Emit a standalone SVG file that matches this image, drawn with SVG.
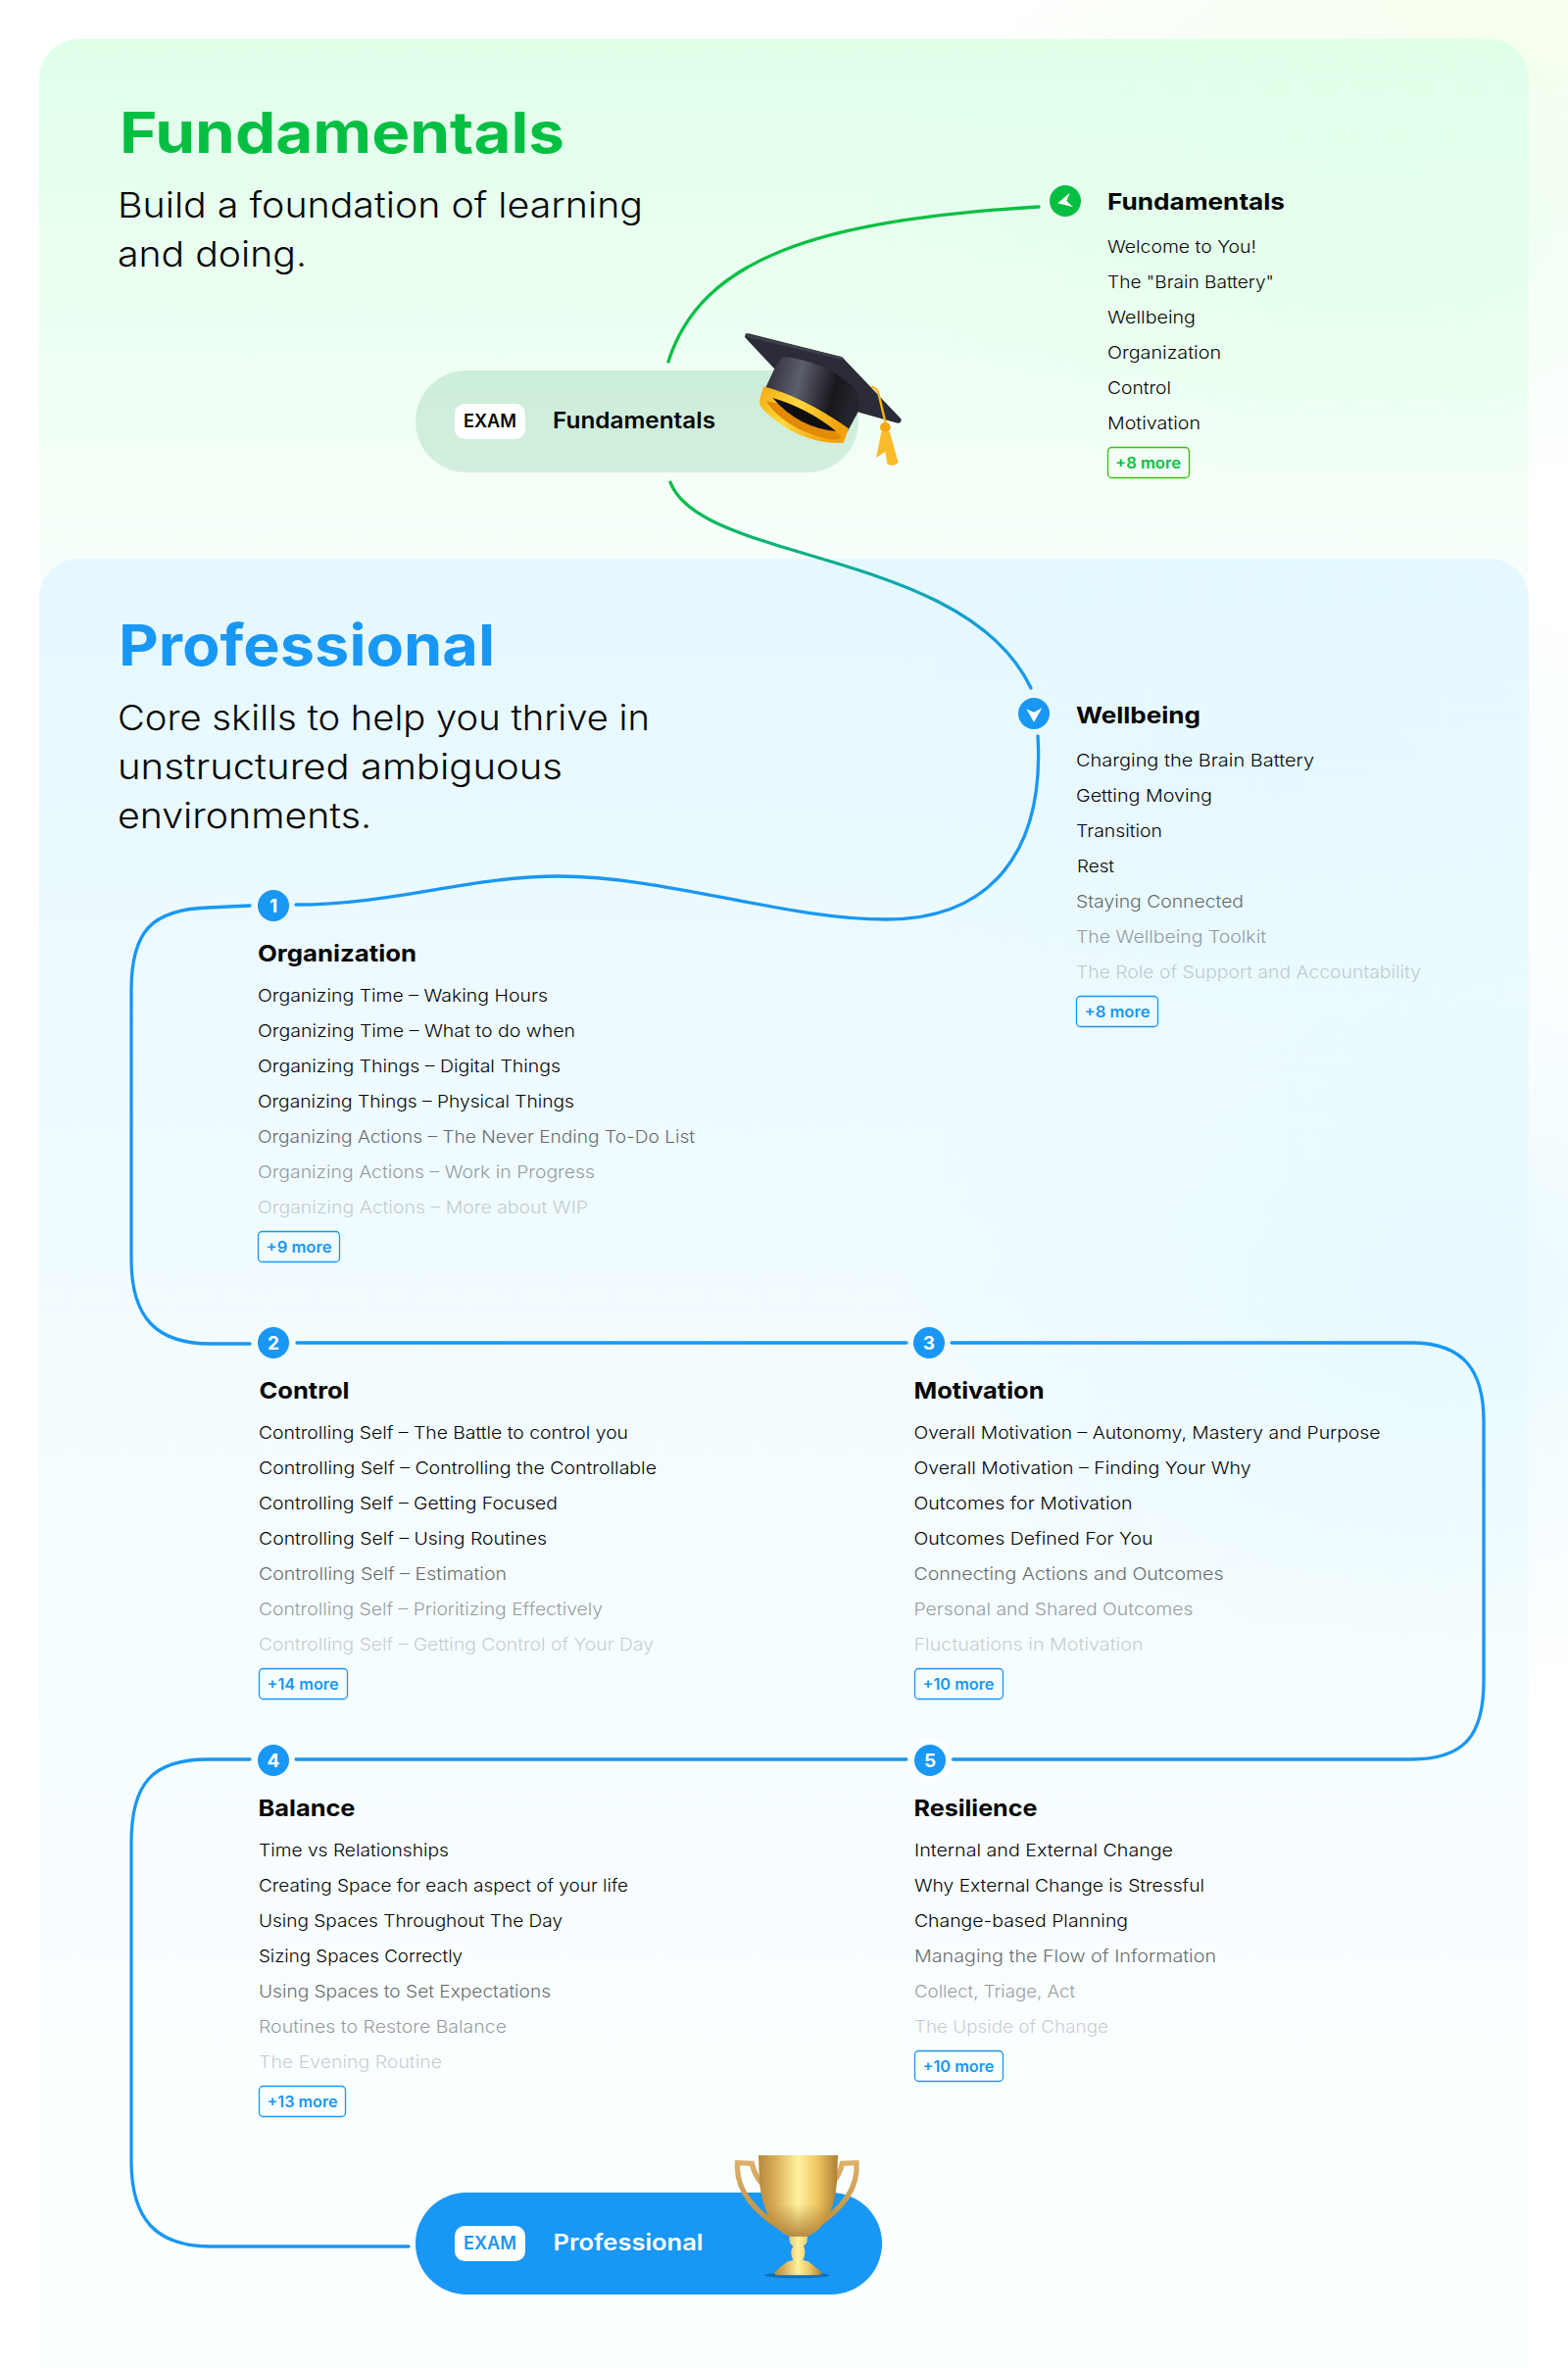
<svg xmlns="http://www.w3.org/2000/svg" width="1600" height="2416" viewBox="0 0 1600 2416">
<style>
text{font-family:Inter,"Liberation Sans",sans-serif;fill:#050505}
.title{font-size:58px;font-weight:700}
.sub{font-size:36px;font-weight:300}
.h{font-size:23.500px;font-weight:700}
.i{font-size:17.800px;font-weight:350}
.f6{opacity:.6}.f4{opacity:.4}.f2{opacity:.2}
.mg{fill:#05bf43}.mb{fill:#1897f5}
.m{font-size:15.500px;font-weight:600}
.mrg{fill:none;stroke:#3dbb12;stroke-width:1.3}
.mrb{fill:none;stroke:#1897f5;stroke-width:1.3}
.n{fill:#1897f5}.ng{fill:#05bf43}
.num{font-size:19px;font-weight:700;fill:#fff;text-anchor:middle}
.badge{fill:#fff}
.ex{font-size:18px;font-weight:600;text-anchor:middle}
.pl{font-size:22.500px;font-weight:600}
.line{fill:none;stroke:#1897f5;stroke-width:3.300;stroke-linecap:round}
</style>
<defs>
<linearGradient id="gp" x1="0" y1="0" x2="0" y2="1"><stop offset="0" stop-color="#dfffe9"/><stop offset=".55" stop-color="#eefff3"/><stop offset="1" stop-color="#fafffc"/></linearGradient>
<radialGradient id="gr" cx=".5" cy=".5" r=".5"><stop offset="0" stop-color="#e0ffe8" stop-opacity=".6"/><stop offset="1" stop-color="#e0ffe8" stop-opacity="0"/></radialGradient>
<linearGradient id="bp" x1="0" y1="0" x2="0" y2="1"><stop offset="0" stop-color="#e5f8ff"/><stop offset=".3" stop-color="#effbff"/><stop offset=".6" stop-color="#f6fdff"/><stop offset="1" stop-color="#fcffff"/></linearGradient>
<radialGradient id="br" cx=".5" cy=".5" r=".5"><stop offset="0" stop-color="#e2f8ff" stop-opacity=".7"/><stop offset="1" stop-color="#e2f8ff" stop-opacity="0"/></radialGradient>
<radialGradient id="cr" cx="1" cy="0" r="1"><stop offset="0" stop-color="#fbffee"/><stop offset="1" stop-color="#fbffee" stop-opacity="0"/></radialGradient>
<linearGradient id="gb" x1="684" y1="492" x2="1052" y2="702" gradientUnits="userSpaceOnUse"><stop offset="0" stop-color="#05bf43"/><stop offset="1" stop-color="#1897f5"/></linearGradient>
<linearGradient id="pillg" x1="0" y1="0" x2="0" y2="1"><stop offset="0" stop-color="#cceeda"/><stop offset="1" stop-color="#d3eede"/></linearGradient>
<linearGradient id="capg" x1="0" y1="0" x2="1" y2=".2"><stop offset="0" stop-color="#24252e"/><stop offset=".42" stop-color="#5e5f6d"/><stop offset=".8" stop-color="#17171d"/><stop offset="1" stop-color="#24242c"/></linearGradient>
<linearGradient id="bandg" x1="0" y1="0" x2="1" y2=".5"><stop offset="0" stop-color="#f5a90f"/><stop offset=".45" stop-color="#ffd93f"/><stop offset="1" stop-color="#f2a20c"/></linearGradient>
<linearGradient id="bowl" x1="0" y1="0" x2="1" y2="0"><stop offset="0" stop-color="#b58a3e"/><stop offset=".2" stop-color="#d8ac55"/><stop offset=".5" stop-color="#fff2a0"/><stop offset=".75" stop-color="#edc45e"/><stop offset="1" stop-color="#ab7d36"/></linearGradient>
<linearGradient id="bowl2" x1="0" y1="0" x2="0" y2="1"><stop offset="0" stop-color="#a97a30" stop-opacity="0"/><stop offset=".6" stop-color="#a97a30" stop-opacity="0"/><stop offset="1" stop-color="#a97a30" stop-opacity=".85"/></linearGradient>
<linearGradient id="hdl" x1="0" y1="0" x2="0" y2="1"><stop offset="0" stop-color="#dcb06a"/><stop offset="1" stop-color="#c08f3c"/></linearGradient>
</defs>

<rect width="1600" height="2416" fill="#ffffff"/>
<rect x="1000" y="0" width="600" height="300" fill="url(#cr)"/>
<g id="panel-fundamentals">
<rect x="40" y="40" width="1520" height="580" rx="40" fill="url(#gp)"/>
<ellipse cx="1400" cy="220" rx="520" ry="300" fill="url(#gr)"/>
</g>
<g id="panel-professional">
<rect x="40" y="570" width="1520" height="1900" rx="40" fill="url(#bp)"/>
<ellipse cx="1480" cy="1320" rx="560" ry="420" fill="url(#br)"/>
<ellipse cx="1300" cy="800" rx="460" ry="260" fill="url(#br)" opacity=".6"/>
</g>

<g id="headings">
<text class="title mg" x="122" y="156" textLength="454" lengthAdjust="spacingAndGlyphs">Fundamentals</text>
<text class="sub" x="120" y="222" textLength="536" lengthAdjust="spacingAndGlyphs">Build a foundation of learning</text>
<text class="sub" x="120" y="272" textLength="193" lengthAdjust="spacingAndGlyphs">and doing.</text>
<text class="title mb" x="121" y="679" textLength="384" lengthAdjust="spacingAndGlyphs">Professional</text>
<text class="sub" x="120" y="745" textLength="543" lengthAdjust="spacingAndGlyphs">Core skills to help you thrive in</text>
<text class="sub" x="120" y="795" textLength="454" lengthAdjust="spacingAndGlyphs">unstructured ambiguous</text>
<text class="sub" x="120" y="845" textLength="259" lengthAdjust="spacingAndGlyphs">environments.</text>
</g>

<g id="connectors">
<path class="line" style="stroke:#05bf43" d="M682 369 C715 265 830 225 1060 211"/>
<path class="line" style="stroke:url(#gb)" d="M684 492 C715 575 985 560 1052 702"/>
<path class="line" d="M1059 751 C1066 870 1010 938 905 938 C800 938 680 894 570 894 C480 894 400 923 302 923"/>
<path class="line" d="M255 924 L212 926 C155 928 134 950 134 1010 L134 1285 C134 1345 160 1371 215 1371 L255 1371"/>
<path class="line" d="M303 1370 L925 1370"/>
<path class="line" d="M971 1370 L1440 1370 C1495 1370 1514 1400 1514 1450 L1514 1715 C1514 1770 1495 1795 1440 1795 L972 1795"/>
<path class="line" d="M925 1795 L302 1795"/>
<path class="line" d="M255 1795 L212 1795 C155 1795 134 1820 134 1880 L134 2205 C134 2265 160 2292 215 2292 L417 2292"/>
</g>

<g id="node-exam-fundamentals">
<rect x="424" y="378" width="452" height="104" rx="52" fill="url(#pillg)"/>
<rect class="badge" x="464" y="412" width="72" height="36" rx="10"/>
<text class="ex" x="500" y="436" textLength="54" lengthAdjust="spacingAndGlyphs">EXAM</text>
<text class="pl" x="564" y="437" textLength="166" lengthAdjust="spacingAndGlyphs">Fundamentals</text>
<g id="hat" transform="translate(740 330) scale(.3333)">
<path d="M62 32 Q60 30 72 31 L358 103 L538 292 Q542 304 528 305 L410 272 L150 138 L60 42 Z" fill="#2b2c38"/>
<path d="M62 32 L358 103 L360 112 L70 42 Z" fill="#3f404e"/>
<path d="M170 108 Q180 100 205 105 Q340 130 410 215 L410 265 L375 330 L115 215 L150 140 Z" fill="url(#capg)"/>
<path d="M118 193 Q240 225 378 322 L362 366 Q230 372 120 268 Q98 245 108 225 Z" fill="url(#bandg)"/>
<path d="M125 238 Q240 255 358 348 Q345 362 300 350 Q180 320 125 238 Z" fill="#e38a06"/>
<path d="M145 228 Q250 258 340 330 Q225 320 145 228 Z" fill="#0f0f13"/>
<path d="M448 193 Q468 198 472 225 L492 310" fill="none" stroke="#f7b31a" stroke-width="7"/>
<circle cx="490" cy="318" r="16" fill="#f2a713"/>
<path d="M478 332 L462 412 L490 392 L496 430 Q515 442 530 425 L504 332 Z" fill="#f9bb2a"/>
</g>
</g>

<g id="node-fundamentals">
<circle class="ng" cx="1087" cy="205" r="16"/>
<path d="M1079.300 207.300 L1091.700 196.700 L1088.300 205 L1095 211.300 Z" fill="#fff"/>
<text class="h" x="1130" y="214" textLength="181" lengthAdjust="spacingAndGlyphs">Fundamentals</text>
<text class="i" x="1130" y="258" textLength="152" lengthAdjust="spacingAndGlyphs">Welcome to You!</text>
<text class="i" x="1130" y="294" textLength="170" lengthAdjust="spacingAndGlyphs">The "Brain Battery"</text>
<text class="i" x="1130" y="330" textLength="90" lengthAdjust="spacingAndGlyphs">Wellbeing</text>
<text class="i" x="1130" y="366" textLength="116" lengthAdjust="spacingAndGlyphs">Organization</text>
<text class="i" x="1130" y="402" textLength="65" lengthAdjust="spacingAndGlyphs">Control</text>
<text class="i" x="1130" y="438" textLength="95" lengthAdjust="spacingAndGlyphs">Motivation</text>
<rect class="mrg" x="1130.500" y="456.500" width="83" height="31" rx="4"/>
<text class="m mg" x="1138" y="478" textLength="67" lengthAdjust="spacingAndGlyphs">+8 more</text>
</g>

<g id="node-wellbeing">
<circle class="n" cx="1055" cy="728" r="16"/>
<path d="M1055 736.700 L1047.300 723.300 L1055 726.700 L1063.300 722.300 Z" fill="#fff"/>
<text class="h" x="1098" y="738" textLength="127" lengthAdjust="spacingAndGlyphs">Wellbeing</text>
<text class="i" x="1098" y="782" textLength="243" lengthAdjust="spacingAndGlyphs">Charging the Brain Battery</text>
<text class="i" x="1098" y="818" textLength="139" lengthAdjust="spacingAndGlyphs">Getting Moving</text>
<text class="i" x="1098" y="854" textLength="88" lengthAdjust="spacingAndGlyphs">Transition</text>
<text class="i" x="1099" y="890" textLength="38" lengthAdjust="spacingAndGlyphs">Rest</text>
<text class="i f6" x="1098" y="926" textLength="171" lengthAdjust="spacingAndGlyphs">Staying Connected</text>
<text class="i f4" x="1098" y="962" textLength="194" lengthAdjust="spacingAndGlyphs">The Wellbeing Toolkit</text>
<text class="i f2" x="1098" y="998" textLength="352" lengthAdjust="spacingAndGlyphs">The Role of Support and Accountability</text>
<rect class="mrb" x="1098.500" y="1016.500" width="83" height="31" rx="4"/>
<text class="m mb" x="1106.500" y="1038" textLength="67" lengthAdjust="spacingAndGlyphs">+8 more</text>
</g>

<g id="node-organization">
<circle class="n" cx="279" cy="924" r="16"/>
<text class="num" x="279" y="931">1</text>
<text class="h" x="263" y="981" textLength="162" lengthAdjust="spacingAndGlyphs">Organization</text>
<text class="i" x="263" y="1022" textLength="296" lengthAdjust="spacingAndGlyphs">Organizing Time – Waking Hours</text>
<text class="i" x="263" y="1058" textLength="324" lengthAdjust="spacingAndGlyphs">Organizing Time – What to do when</text>
<text class="i" x="263" y="1094" textLength="309" lengthAdjust="spacingAndGlyphs">Organizing Things – Digital Things</text>
<text class="i" x="263" y="1130" textLength="323" lengthAdjust="spacingAndGlyphs">Organizing Things – Physical Things</text>
<text class="i f6" x="263" y="1166" textLength="446" lengthAdjust="spacingAndGlyphs">Organizing Actions – The Never Ending To-Do List</text>
<text class="i f4" x="263" y="1202" textLength="344" lengthAdjust="spacingAndGlyphs">Organizing Actions – Work in Progress</text>
<text class="i f2" x="263" y="1238" textLength="337" lengthAdjust="spacingAndGlyphs">Organizing Actions – More about WIP</text>
<rect class="mrb" x="263.500" y="1256.500" width="83" height="31" rx="4"/>
<text class="m mb" x="271.500" y="1278" textLength="67" lengthAdjust="spacingAndGlyphs">+9 more</text>
</g>

<g id="node-control">
<circle class="n" cx="279" cy="1370" r="16"/>
<text class="num" x="279" y="1377">2</text>
<text class="h" x="264.500" y="1427" textLength="92" lengthAdjust="spacingAndGlyphs">Control</text>
<text class="i" x="264" y="1468" textLength="377" lengthAdjust="spacingAndGlyphs">Controlling Self – The Battle to control you</text>
<text class="i" x="264" y="1504" textLength="406" lengthAdjust="spacingAndGlyphs">Controlling Self – Controlling the Controllable</text>
<text class="i" x="264" y="1540" textLength="305" lengthAdjust="spacingAndGlyphs">Controlling Self – Getting Focused</text>
<text class="i" x="264" y="1576" textLength="294" lengthAdjust="spacingAndGlyphs">Controlling Self – Using Routines</text>
<text class="i f6" x="264" y="1612" textLength="253" lengthAdjust="spacingAndGlyphs">Controlling Self – Estimation</text>
<text class="i f4" x="264" y="1648" textLength="351" lengthAdjust="spacingAndGlyphs">Controlling Self – Prioritizing Effectively</text>
<text class="i f2" x="264" y="1684" textLength="403" lengthAdjust="spacingAndGlyphs">Controlling Self – Getting Control of Your Day</text>
<rect class="mrb" x="264.500" y="1702.500" width="90" height="31" rx="4"/>
<text class="m mb" x="272.500" y="1724" textLength="73" lengthAdjust="spacingAndGlyphs">+14 more</text>
</g>

<g id="node-motivation">
<circle class="n" cx="948" cy="1370" r="16"/>
<text class="num" x="948" y="1377">3</text>
<text class="h" x="932.500" y="1427" textLength="133" lengthAdjust="spacingAndGlyphs">Motivation</text>
<text class="i" x="932.500" y="1468" textLength="476" lengthAdjust="spacingAndGlyphs">Overall Motivation – Autonomy, Mastery and Purpose</text>
<text class="i" x="932.500" y="1504" textLength="344" lengthAdjust="spacingAndGlyphs">Overall Motivation – Finding Your Why</text>
<text class="i" x="932.500" y="1540" textLength="223" lengthAdjust="spacingAndGlyphs">Outcomes for Motivation</text>
<text class="i" x="932.500" y="1576" textLength="244" lengthAdjust="spacingAndGlyphs">Outcomes Defined For You</text>
<text class="i f6" x="932.500" y="1612" textLength="316" lengthAdjust="spacingAndGlyphs">Connecting Actions and Outcomes</text>
<text class="i f4" x="932.500" y="1648" textLength="285" lengthAdjust="spacingAndGlyphs">Personal and Shared Outcomes</text>
<text class="i f2" x="932.500" y="1684" textLength="234" lengthAdjust="spacingAndGlyphs">Fluctuations in Motivation</text>
<rect class="mrb" x="933.500" y="1702.500" width="90" height="31" rx="4"/>
<text class="m mb" x="941.500" y="1724" textLength="73" lengthAdjust="spacingAndGlyphs">+10 more</text>
</g>

<g id="node-balance">
<circle class="n" cx="279" cy="1796" r="16"/>
<text class="num" x="279" y="1803">4</text>
<text class="h" x="263.500" y="1853" textLength="99" lengthAdjust="spacingAndGlyphs">Balance</text>
<text class="i" x="264" y="1894" textLength="194" lengthAdjust="spacingAndGlyphs">Time vs Relationships</text>
<text class="i" x="264" y="1930" textLength="377" lengthAdjust="spacingAndGlyphs">Creating Space for each aspect of your life</text>
<text class="i" x="264" y="1966" textLength="310" lengthAdjust="spacingAndGlyphs">Using Spaces Throughout The Day</text>
<text class="i" x="264" y="2002" textLength="208" lengthAdjust="spacingAndGlyphs">Sizing Spaces Correctly</text>
<text class="i f6" x="264" y="2038" textLength="298" lengthAdjust="spacingAndGlyphs">Using Spaces to Set Expectations</text>
<text class="i f4" x="264" y="2074" textLength="253" lengthAdjust="spacingAndGlyphs">Routines to Restore Balance</text>
<text class="i f2" x="264" y="2110" textLength="187" lengthAdjust="spacingAndGlyphs">The Evening Routine</text>
<rect class="mrb" x="264.500" y="2128.500" width="88" height="31" rx="4"/>
<text class="m mb" x="272.500" y="2150" textLength="72" lengthAdjust="spacingAndGlyphs">+13 more</text>
</g>

<g id="node-resilience">
<circle cx="949" cy="1796" r="23" fill="#ffffff" opacity=".45"/>
<circle class="n" cx="949" cy="1796" r="16"/>
<text class="num" x="949" y="1803">5</text>
<text class="h" x="932.500" y="1853" textLength="126" lengthAdjust="spacingAndGlyphs">Resilience</text>
<text class="i" x="933" y="1894" textLength="264" lengthAdjust="spacingAndGlyphs">Internal and External Change</text>
<text class="i" x="933" y="1930" textLength="296" lengthAdjust="spacingAndGlyphs">Why External Change is Stressful</text>
<text class="i" x="933" y="1966" textLength="218" lengthAdjust="spacingAndGlyphs">Change-based Planning</text>
<text class="i f6" x="933" y="2002" textLength="308" lengthAdjust="spacingAndGlyphs">Managing the Flow of Information</text>
<text class="i f4" x="933" y="2038" textLength="164" lengthAdjust="spacingAndGlyphs">Collect, Triage, Act</text>
<text class="i f2" x="933" y="2074" textLength="198" lengthAdjust="spacingAndGlyphs">The Upside of Change</text>
<rect class="mrb" x="933.500" y="2092.500" width="90" height="31" rx="4"/>
<text class="m mb" x="941.500" y="2114" textLength="73" lengthAdjust="spacingAndGlyphs">+10 more</text>
</g>

<g id="node-exam-professional">
<rect class="n" x="424" y="2237" width="476" height="104" rx="52"/>
<rect class="badge" x="464" y="2271" width="72" height="36" rx="10"/>
<text class="ex" x="500" y="2295" textLength="54" lengthAdjust="spacingAndGlyphs" style="fill:#1897f5">EXAM</text>
<text class="pl" x="564.500" y="2296" textLength="153" lengthAdjust="spacingAndGlyphs" style="fill:#fff">Professional</text>
<g id="trophy" transform="translate(400 2180) scale(.3333)">
<ellipse cx="1240" cy="424" rx="100" ry="9" fill="#0f6fb8"/>
<path d="M1135 145 Q1110 120 1102 82 L1058 80 Q1048 190 1195 282" fill="none" stroke="url(#hdl)" stroke-width="16"/>
<path d="M1345 145 Q1370 120 1378 82 L1422 80 Q1432 190 1285 282" fill="none" stroke="url(#hdl)" stroke-width="16"/>
<path d="M1122 57 L1365 57 L1362 140 Q1352 268 1272 305 L1216 305 Q1138 268 1125 140 Z" fill="url(#bowl)"/>
<path d="M1122 57 L1365 57 L1362 140 Q1352 268 1272 305 L1216 305 Q1138 268 1125 140 Z" fill="url(#bowl2)"/>
<path d="M1216 306 L1272 306 L1270 325 L1260 335 Q1270 352 1258 378 L1274 382 Q1292 395 1316 415 L1312 424 L1174 424 L1170 415 Q1193 395 1212 382 L1228 378 Q1216 352 1228 335 L1218 325 Z" fill="url(#bowl)"/>
</g>
</g>
</svg>
